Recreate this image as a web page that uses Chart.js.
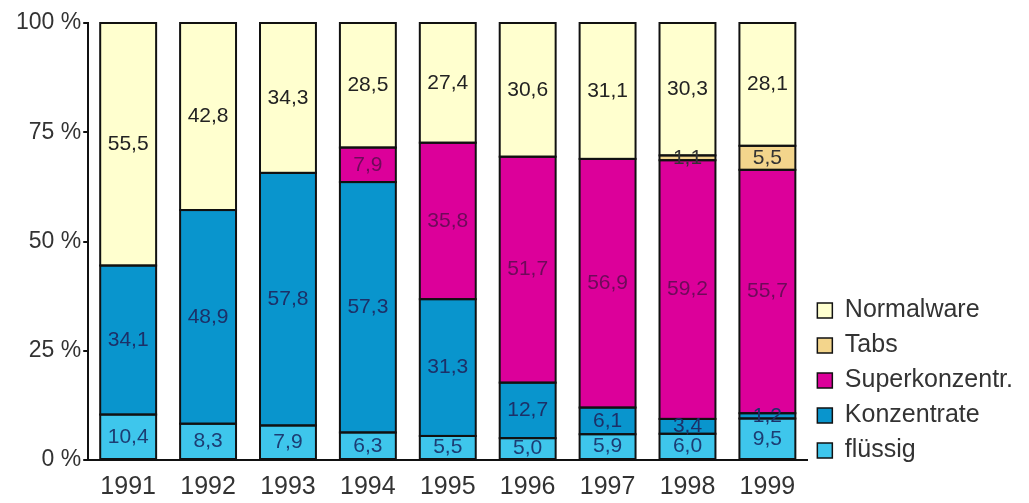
<!DOCTYPE html>
<html>
<head>
<meta charset="utf-8">
<script src="https://cdn.jsdelivr.net/npm/chart.js@4/dist/chart.umd.min.js"></script>
<style>
  html, body { margin: 0; padding: 0; background: #fff; }
  #wrap { width: 1029px; height: 503px; }
</style>
</head>
<body>
<div id="wrap"><canvas id="chart"></canvas></div>
<script>
var years = ["1991", "1992", "1993", "1994", "1995", "1996", "1997", "1998", "1999"];

// shares in percent, bottom segment first
var fluessig      = [10.4, 8.3, 7.9, 6.3, 5.5, 5.0, 5.9, 6.0, 9.5];
var konzentrate   = [34.1, 48.9, 57.8, 57.3, 31.3, 12.7, 6.1, 3.4, 1.2];
var superkonz     = [null, null, null, 7.9, 35.8, 51.7, 56.9, 59.2, 55.7];
var tabs          = [null, null, null, null, null, null, null, 1.1, 5.5];
var normalware    = [55.5, 42.8, 34.3, 28.5, 27.4, 30.6, 31.1, 30.3, 28.1];

var yTicks = [0, 25, 50, 75, 100];

var fontFamily = "'Liberation Sans', Arial, sans-serif";
var outline = "#111";

function series(label, values, fill, textColor) {
    return {
        label: label,
        data: values,
        backgroundColor: fill,
        borderWidth: 0,
        inflateAmount: 0,
        barPercentage: 0.7,
        categoryPercentage: 1.0,
        labelColor: textColor
    };
}

// outlines every segment and writes its value in the middle
var segmentLabels = {
    id: "segmentLabels",
    afterDatasetsDraw: function(chart) {
        var ctx = chart.ctx;
        ctx.save();
        ctx.strokeStyle = outline;
        ctx.lineWidth = 2;
        chart.data.datasets.forEach(function(ds, di) {
            chart.getDatasetMeta(di).data.forEach(function(bar, i) {
                if (ds.data[i] === null) return;
                ctx.strokeRect(bar.x - bar.width / 2, bar.y, bar.width, bar.base - bar.y);
            });
        });
        ctx.font = "21px " + fontFamily;
        ctx.textAlign = "center";
        ctx.textBaseline = "middle";
        chart.data.datasets.forEach(function(ds, di) {
            chart.getDatasetMeta(di).data.forEach(function(bar, i) {
                var v = ds.data[i];
                if (v === null || v === undefined) return;
                ctx.fillStyle = ds.labelColor;
                ctx.fillText(v.toFixed(1).replace(".", ","), bar.x, (bar.y + bar.base) / 2);
            });
        });
        ctx.restore();
    }
};

// nudge the legend column a bit lower, closer to the x axis
var legendShift = {
    id: "legendShift",
    afterLayout: function(chart) {
        chart.legend.top += 13;
        chart.legend.bottom += 13;
    }
};

new Chart(document.getElementById("chart"), {
    type: "bar",
    data: {
        labels: years,
        datasets: [
            series("flüssig", fluessig, "#3ec6ec", "#1c3d73"),
            series("Konzentrate", konzentrate, "#0995cd", "#1c3068"),
            series("Superkonzentr.", superkonz, "#dc009a", "#6e0a5a"),
            series("Tabs", tabs, "#f3d58c", "#333"),
            series("Normalware", normalware, "#ffffcf", "#222")
        ]
    },
    options: {
        responsive: true,
        maintainAspectRatio: false,
        animation: false,
        layout: { padding: { left: 14, top: 23, right: 6, bottom: 0 } },
        plugins: {
            tooltip: { enabled: false },
            legend: {
                position: "right",
                align: "end",
                fullSize: false,
                reverse: true,
                labels: {
                    color: "#333",
                    font: { family: fontFamily, size: 25 },
                    boxWidth: 15,
                    boxHeight: 15,
                    padding: 10,
                    generateLabels: function(chart) {
                        var items = Chart.defaults.plugins.legend.labels.generateLabels(chart);
                        items.forEach(function(it) {
                            it.lineWidth = 1.5;
                            it.strokeStyle = outline;
                        });
                        return items;
                    }
                }
            }
        },
        scales: {
            x: {
                stacked: true,
                grid: { display: false },
                border: { display: true, color: outline, width: 2 },
                ticks: {
                    color: "#333",
                    font: { family: fontFamily, size: 25 },
                    padding: 4,
                    maxRotation: 0
                },
                afterFit: function(axis) { axis.height = 43; }
            },
            y: {
                stacked: true,
                min: 0,
                max: 100,
                afterBuildTicks: function(axis) {
                    axis.ticks = yTicks.map(function(v) { return { value: v }; });
                },
                grid: {
                    drawOnChartArea: false,
                    drawTicks: true,
                    tickLength: 5,
                    color: outline,
                    lineWidth: 2
                },
                border: { display: true, color: outline, width: 2 },
                ticks: {
                    color: "#333",
                    font: { family: fontFamily, size: 23 },
                    padding: 2,
                    callback: function(v) { return v + " %"; }
                }
            }
        }
    },
    plugins: [segmentLabels, legendShift]
});
</script>
</body>
</html>
